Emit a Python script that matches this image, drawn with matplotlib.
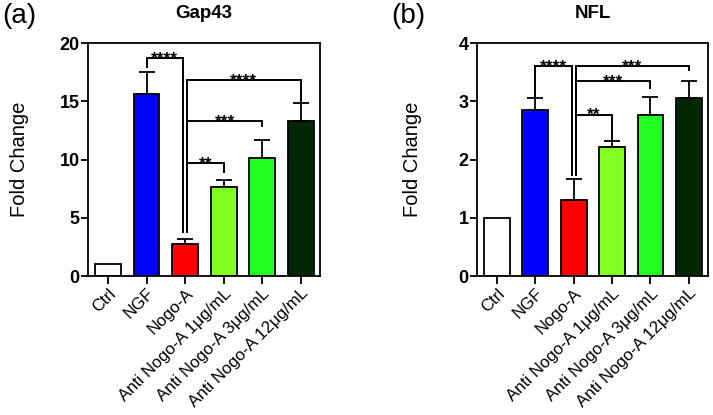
import matplotlib.pyplot as plt

plt.rcParams['font.family'] = ['Liberation Sans', 'DejaVu Sans']

groups = ["Ctrl", "NGF", "Nogo-A", "Anti Nogo-A 1μg/mL",
          "Anti Nogo-A 3μg/mL", "Anti Nogo-A 12μg/mL"]
colors = ["#ffffff", "#0000ff", "#ff0000", "#80ff20", "#20ff20", "#002800"]

# Gap43
gap43_mean = [1.0, 15.65, 2.75, 7.6, 10.1, 13.3]
gap43_err = [0.0, 1.85, 0.45, 0.65, 1.6, 1.55]
# (left group, right group, bracket height, left leg end, right leg end, label)
gap43_sig = [
    (1, 2, 18.7, 17.9, 3.8, "****"),
    (2, 5, 16.8, 3.8, 14.9, "****"),
    (2, 4, 13.3, 3.8, 12.9, "***"),
    (2, 3, 9.7, 3.8, 8.95, "**"),
]

# NFL
nfl_mean = [1.0, 2.85, 1.30, 2.21, 2.77, 3.05]
nfl_err = [0.0, 0.20, 0.37, 0.11, 0.31, 0.30]
nfl_sig = [
    (1, 2, 3.6, 3.06, 1.73, "****"),
    (2, 5, 3.6, 1.73, 3.53, "***"),
    (2, 4, 3.35, 1.73, 3.22, "***"),
    (2, 3, 2.77, 1.73, 2.33, "**"),
]


def draw_panel(ax, means, errs, sig, ymax, step, title, fig, lx):
    x = list(range(len(groups)))
    ax.bar(x, means, width=0.67, color=colors, edgecolor="black",
           linewidth=1.3, zorder=2)
    ex = [i for i in x if errs[i] > 0]
    ax.errorbar(ex, [means[i] for i in ex],
                yerr=[[0] * len(ex), [errs[i] for i in ex]],
                fmt="none", ecolor="black", elinewidth=1.3, capsize=6,
                capthick=1.3, zorder=1)
    for a, b, h, la, lb, lab in sig:
        xa = a + (0.05 if a == 2 else 0)
        xb = b - (0.05 if b == 2 else 0)
        ax.plot([xa, xa, xb, xb], [la, h, h, lb], color="black",
                linewidth=1.4, zorder=3, solid_joinstyle="miter")
        ax.annotate(lab, ((xa + xb) / 2, h), xytext=(0, -4),
                    textcoords="offset points", ha="center", va="baseline",
                    fontsize=12.5, fontweight="bold")
    ax.set_xlim(-0.52, 5.5)
    ax.set_ylim(0, ymax)
    ax.set_yticks([i * step for i in range(int(ymax / step) + 1)])
    ax.set_xticks(x)
    ax.set_xticklabels(groups, rotation=45, ha="right",
                       rotation_mode="anchor", fontsize=12.2)
    for lbl in ax.get_yticklabels():
        lbl.set_fontweight("bold")
        lbl.set_fontsize(13)
    for s in ax.spines.values():
        s.set_linewidth(1.3)
    ax.tick_params(direction="out", length=5, width=1.3, pad=1)
    ax.tick_params(axis="x", length=6, pad=1)
    pos = ax.get_position()
    fig.text(pos.x0 + pos.width / 2, 0.967, title, ha="center", va="center",
             fontsize=13.5, fontweight="bold")
    fig.text(lx, pos.y0 + pos.height / 2, "Fold Change", rotation=90,
             ha="center", va="center", fontsize=14.5)


fig = plt.figure(figsize=(7.13, 4.15), dpi=100)
ax1 = fig.add_axes([0.1234, 0.3349, 0.3254, 0.5614])
ax2 = fig.add_axes([0.669, 0.3349, 0.324, 0.5614])

draw_panel(ax1, gap43_mean, gap43_err, gap43_sig, 20, 5, "Gap43", fig, 0.028)
draw_panel(ax2, nfl_mean, nfl_err, nfl_sig, 4, 1, "NFL", fig, 0.578)

fig.text(0.003, 0.962, "(a)", fontsize=20, ha="left", va="center")
fig.text(0.549, 0.962, "(b)", fontsize=20, ha="left", va="center")

fig.savefig("out.png", dpi=100)
